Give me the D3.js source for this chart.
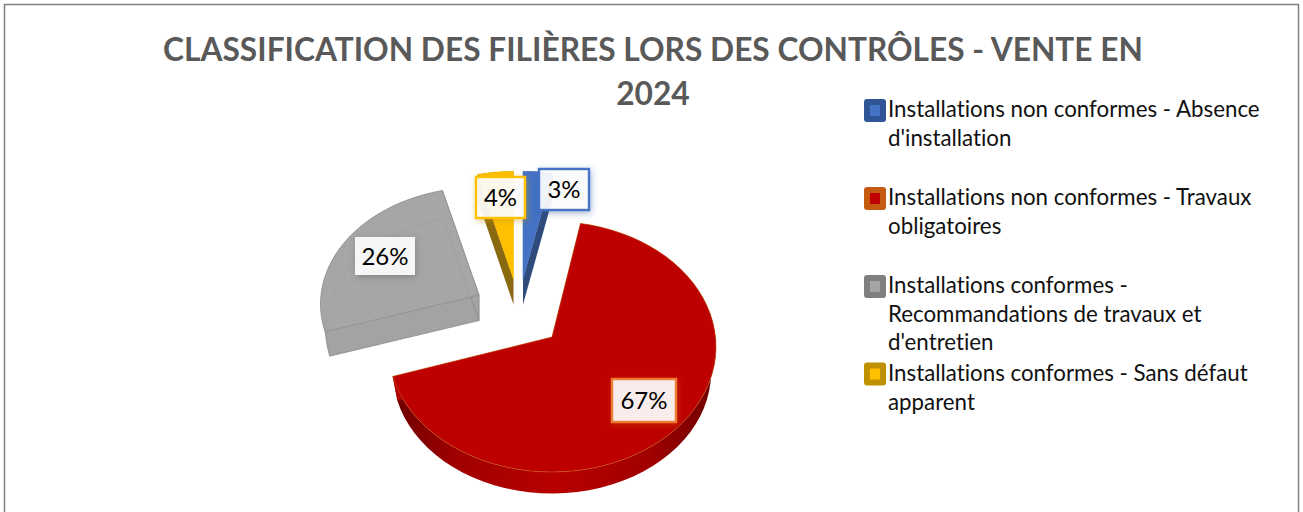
<!DOCTYPE html>
<html><head><meta charset="utf-8">
<script src="https://cdn.jsdelivr.net/npm/d3@7"></script>
<style>html,body{margin:0;padding:0;background:#fff}svg{display:block}text{font-variant-ligatures:none}</style>
</head><body><svg id="c" width="1303" height="512"></svg>
<script>
const titleLines = ["CLASSIFICATION DES FILIÈRES LORS DES CONTRÔLES - VENTE EN","2024"];
const categories = ["Installations non conformes - Absence d'installation","Installations non conformes - Travaux obligatoires","Installations conformes - Recommandations de travaux et d'entretien","Installations conformes - Sans défaut apparent"];
const legendLines = [["Installations non conformes - Absence","d'installation"],["Installations non conformes - Travaux","obligatoires"],["Installations conformes -","Recommandations de travaux et","d'entretien"],["Installations conformes - Sans défaut","apparent"]];
const values = [3,67,26,4];
const topColors = ["#4472c4","#bd0000","#a6a6a6","#ffc000"];
const wallColors = ["#2f4b7c","#b00000","#a3a3a3","#8a6a10"];
const edgeColors = ["#4472c4","#c55a11","#8c8c8c","#ffc000"];
const keyOuter = ["#2f5597","#c55a11","#7f7f7f","#bf9000"];
const keyInner = ["#4472c4","#c00000","#a5a5a5","#ffc000"];
const labelBorders = ["#4472c4","#ed7d31",null,"#ffc000"];

// per-slice layout (exploded apex + radii)
const apexX=[523,552,479,513.5], apexY=[279,337,295,279], radX=[170,163.5,158,155], radY=[116,124.5,116,116];
const labelCX=[564,644,385,500.5], labelCY=[189.5,400.5,256,197.5], labelW=[50,64,60,49], labelH=[41,43,38,41];
const legendY=[[110,138.5],[198,226.5],[286,314.5,343],[373.5,402.5]];
const keyY=[110.5,198.5,286.5,374];
const persp=0.078, depth=25.5, bottomScale=0.97;
const FONT="Lato, 'Open Sans', sans-serif";

const svg=d3.select("#c");
const defs=svg.append("defs");
const mkShadow=(id,color,dev,op)=>defs.append("filter").attr("id",id).attr("x","-40%").attr("y","-40%").attr("width","180%").attr("height","180%")
  .append("feDropShadow").attr("dx",1).attr("dy",2).attr("stdDeviation",dev).attr("flood-color",color).attr("flood-opacity",op);
["#2f5597","#c55a11","#555555","#bf9000"].forEach((c,i)=>mkShadow("sh"+i,c,3,0.45));
const g=defs.append("linearGradient").attr("id","redWall");
[[0,"#6e0000"],[0.2,"#a00000"],[0.5,"#b80000"],[0.8,"#a00000"],[1,"#6e0000"]].forEach(([o,c])=>g.append("stop").attr("offset",o).attr("stop-color",c));

svg.append("rect").attr("x",4.5).attr("y",4.5).attr("width",1294).attr("height",540).attr("fill","#fff").attr("stroke","#7f7f7f").attr("stroke-width",1.5);

svg.selectAll("text.title").data(titleLines).join("text").attr("class","title")
  .attr("x",653).attr("y",(d,i)=>[61,105][i]).attr("text-anchor","middle")
  .attr("font-family",FONT).attr("font-weight",700).attr("font-size",31.7).attr("fill","#595959").text(d=>d);

const pie=d3.pie().sort(null).value(d=>d)(values);
const line=d3.line();
const proj=(i,a,lower)=>{
  const s=Math.sin(a),c=Math.cos(a),w=1+persp*c,k=lower?bottomScale:1;
  return [apexX[i]+k*radX[i]*s/w, apexY[i]+(lower?depth:0)-k*radY[i]*c/w];
};
const apex=(i,lower)=>[apexX[i],apexY[i]+(lower?depth:0)];
const arcPts=(i,a0,a1,lower)=>d3.range(0,61).map(t=>proj(i,a0+(a1-a0)*t/60,lower));

const order=[2,3,0,1];
order.forEach(i=>{
  const p=pie[i],a0=p.startAngle,a1=p.endAngle;
  const G=svg.append("g");
  const wallFill=i===1?"url(#redWall)":wallColors[i];
  G.append("path").attr("d",line([...arcPts(i,a0,a1,false),...arcPts(i,a0,a1,true).reverse()])+"Z").attr("fill",wallFill);
  const wall=a=>line([apex(i,false),proj(i,a,false),proj(i,a,true),apex(i,true)])+"Z";
  [a0,a1].forEach(a=>G.append("path").attr("d",wall(a)).attr("fill",wallColors[i]).attr("stroke",i===2?"#8c8c8c":"none").attr("stroke-width",0.7));
  const top=line([apex(i,false),...arcPts(i,a0,a1,false)])+"Z";
  G.append("path").attr("d",top).attr("fill",topColors[i]).attr("stroke",edgeColors[i]).attr("stroke-width",i===2?0.7:0.6);
  if(i===2){
    G.append("path").attr("d",line([apex(i,true),...arcPts(i,a0,a1,true)])+"Z").attr("fill","none").attr("stroke","#8f8f8f").attr("stroke-opacity",0.4).attr("stroke-width",0.7);
  }
});

const lab=svg.selectAll("g.lab").data(pie).join("g").attr("class","lab");
lab.append("rect").attr("x",(d,i)=>labelCX[i]-labelW[i]/2).attr("y",(d,i)=>labelCY[i]-labelH[i]/2)
  .attr("width",(d,i)=>labelW[i]).attr("height",(d,i)=>labelH[i])
  .attr("fill","#fff").attr("fill-opacity",0.9)
  .attr("stroke",(d,i)=>labelBorders[i]||"none").attr("stroke-width",2.4)
  .attr("filter",(d,i)=>`url(#sh${i})`);
lab.append("text").attr("x",(d,i)=>labelCX[i]).attr("y",(d,i)=>labelCY[i]+8.5)
  .attr("text-anchor","middle").attr("font-family",FONT).attr("font-size",24).attr("fill","#000")
  .text(d=>d.value+"%");

const lg=svg.selectAll("g.leg").data(categories).join("g").attr("class","leg");
lg.append("rect").attr("x",864).attr("y",(d,i)=>keyY[i]-11.5).attr("width",22).attr("height",23).attr("rx",3)
  .attr("fill",(d,i)=>keyOuter[i]);
lg.append("rect").attr("x",870).attr("y",(d,i)=>keyY[i]-5.5).attr("width",10).attr("height",11)
  .attr("fill",(d,i)=>keyInner[i]);
legendLines.forEach((ls,i)=>ls.forEach((t,j)=>{
  svg.append("text").attr("x",888).attr("y",legendY[i][j]+7).attr("font-family",FONT).attr("font-size",22.3).attr("fill","#111").text(t);
}));
</script></body></html>
